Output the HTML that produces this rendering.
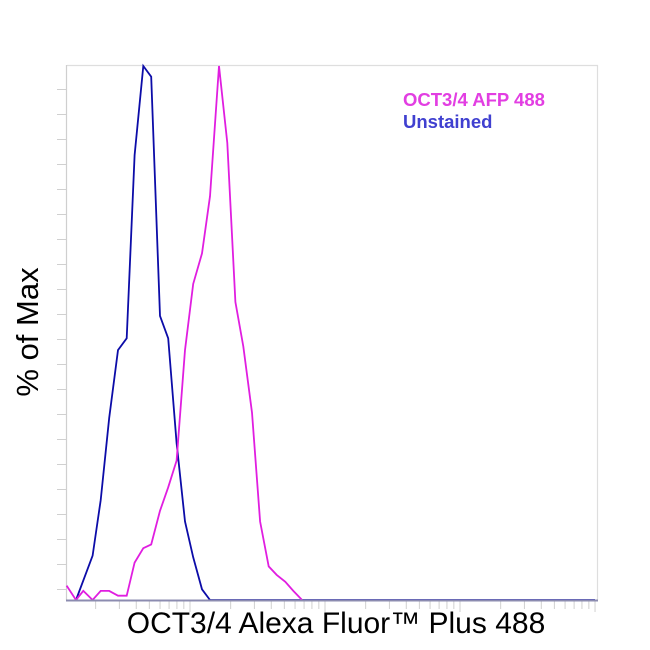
<!DOCTYPE html>
<html><head><meta charset="utf-8"><style>
html,body{margin:0;padding:0;background:#fff;width:650px;height:650px;overflow:hidden}
</style></head><body>
<svg id="chart" width="650" height="650" xmlns="http://www.w3.org/2000/svg" font-family="Liberation Sans, sans-serif">
<line x1="67" y1="65.5" x2="598" y2="65.5" stroke="#dedede" stroke-width="1.2"/>
<line x1="597.5" y1="65" x2="597.5" y2="600" stroke="#dedede" stroke-width="1.2"/>
<line x1="66.5" y1="65" x2="66.5" y2="600" stroke="#cfcfcf" stroke-width="1.2"/>
<g id="yticks"></g>
<g id="xticks"></g>
<polyline id="blue" fill="none" stroke="#0c0ca8" stroke-width="1.8"/>
<polyline id="mag" fill="none" stroke="#e01ee0" stroke-width="1.8"/>
<line x1="66" y1="600.5" x2="598" y2="600.5" stroke="#8c8cb0" stroke-width="2"/>
<text x="403" y="106" font-size="18.5" font-weight="bold" fill="#e23ee2">OCT3/4 AFP 488</text>
<text x="403" y="128" font-size="18.5" font-weight="bold" fill="#4040d0">Unstained</text>
<text transform="translate(38,332) rotate(-90)" text-anchor="middle" font-size="31" fill="#000">% of Max</text>
<text x="336" y="633" text-anchor="middle" font-size="30" fill="#000">OCT3/4 Alexa Fluor™ Plus 488</text>
</svg>
<script>
const blueX=[143,190,218,252,293,340,389,451,516,600,690,796,918,1057,1227,1406,1000000];
const blueY=[0,8.3,18.7,34.1,46.8,49,83.3,100,98,53.2,49,29.4,14.7,8,2,0,0];
const magX=[122,143,162,190,218,252,293,340,389,451,516,600,690,796,918,1057,1227,1406,1641,1888,2168,2483,2877,3304,3828,4385,5082,5821,6761];
const magY=[2.7,0,1.7,0,1.7,1.7,0.8,0.8,7,9.7,10.4,16.7,21.1,26.1,46.8,59.2,64.9,75.6,100,85.6,55.8,47.5,35.1,14.7,6.3,4.7,3.4,1.7,0];
const xMinExp=2.089,xMaxExp=6.022;
function sx(v){return 67+(Math.log10(v)-xMinExp)/(xMaxExp-xMinExp)*531;}
function sy(p){return 600-p/100*534;}
const ns="http://www.w3.org/2000/svg";
function pts(xs,ys){return xs.map((x,i)=>Math.min(sx(x),598).toFixed(1)+","+sy(ys[i]).toFixed(1)).join(" ");}
document.getElementById('blue').setAttribute('points',pts(blueX,blueY));
document.getElementById('mag').setAttribute('points',pts(magX,magY));
const yt=document.getElementById('yticks');
for(let y=89;y<600;y+=25){const l=document.createElementNS(ns,'line');


l.setAttribute('x1',57);l.setAttribute('x2',66);l.setAttribute('y1',y+0.5);l.setAttribute('y2',y+0.5);l.setAttribute('stroke','#d0d0d0');yt.appendChild(l);}
const xt=document.getElementById('xticks');
for(let d=2;d<=6;d++){for(let m=1;m<=9;m++){const v=m*Math.pow(10,d);const x=sx(v);if(x<68||x>598)continue;
const l=document.createElementNS(ns,'line');


l.setAttribute('x1',x);l.setAttribute('x2',x);l.setAttribute('y1',601);l.setAttribute('y2',m==1?612:609);l.setAttribute('stroke','#d0d0d0');xt.appendChild(l);}}
</script>
</body></html>
